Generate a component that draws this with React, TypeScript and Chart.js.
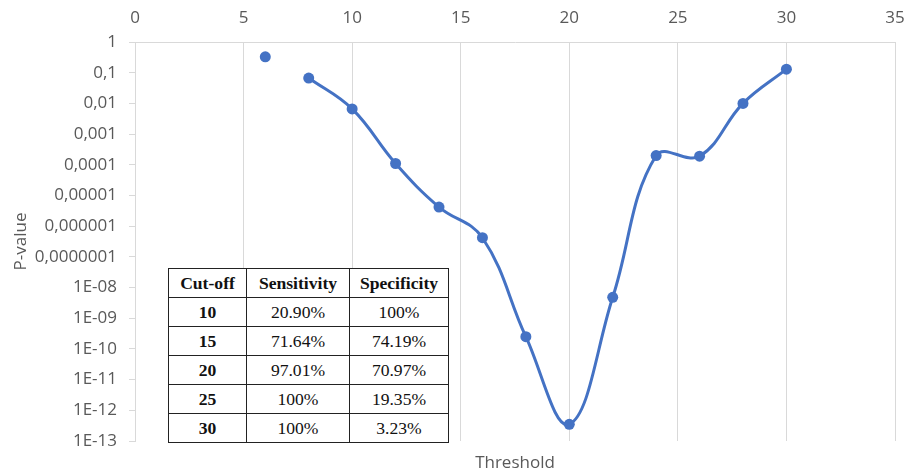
import React, { useEffect, useRef } from "react";
import { Chart, registerables } from "chart.js";
Chart.register(...registerables);

const isolatedThresholds = [6];
const isolatedPValues = [0.33];
const thresholds = [8, 10, 12, 14, 16, 18, 20, 22, 24, 26, 28, 30];
const pValues = [0.067, 0.0066, 1.1e-4, 4.2e-6, 4.2e-7, 2.5e-10, 3.5e-13, 4.8e-9, 2e-4, 1.9e-4, 0.01, 0.13];

const yTickValues = [1e-13, 1e-12, 1e-11, 1e-10, 1e-9, 1e-8, 1e-7, 1e-6, 1e-5, 1e-4, 1e-3, 1e-2, 1e-1, 1];
const yTickLabels = ["1E-13", "1E-12", "1E-11", "1E-10", "1E-09", "1E-08", "0,0000001", "0,000001", "0,00001", "0,0001", "0,001", "0,01", "0,1", "1"];

const tableHeaders = ["Cut-off", "Sensitivity", "Specificity"];
const cutoffs = ["10", "15", "20", "25", "30"];
const sensitivity = ["20.90%", "71.64%", "97.01%", "100%", "100%"];
const specificity = ["100%", "74.19%", "70.97%", "19.35%", "3.23%"];

const BLUE = "#4472C4";
const TEXT = "#595959";
const GRID = "#d9d9d9";
const FONT = "'Open Sans', sans-serif";

export default function App() {
  const ref = useRef<HTMLCanvasElement | null>(null);

  useEffect(() => {
    if (!ref.current) return;
    const chart = new Chart(ref.current, {
      type: "line",
      data: {
        datasets: [
          {
            data: isolatedThresholds.map((x, i) => ({ x, y: isolatedPValues[i] })),
            borderColor: BLUE,
            backgroundColor: BLUE,
            pointRadius: 5.5,
            pointBorderWidth: 0,
            showLine: false,
            xAxisID: "x",
            yAxisID: "y",
          },
          {
            data: thresholds.map((x, i) => ({ x, y: pValues[i] })),
            borderColor: BLUE,
            backgroundColor: BLUE,
            borderWidth: 3,
            pointRadius: 5.5,
            pointBorderWidth: 0,
            tension: 0.4,
            xAxisID: "x",
            yAxisID: "y",
          },
        ],
      },
      options: {
        responsive: false,
        animation: false,
        layout: { padding: { left: 0, right: 0, top: 0, bottom: 0 } },
        plugins: { legend: { display: false }, tooltip: { enabled: false } },
        scales: {
          x: {
            type: "linear",
            position: "top",
            min: 0,
            max: 35,
            ticks: { stepSize: 5, color: TEXT, font: { family: FONT, size: 17 }, padding: 14 },
            grid: { color: GRID, drawTicks: false, lineWidth: 1 },
            border: { display: true, color: GRID },
            afterFit: (s: any) => { s.height = 42; s.paddingRight = 12; },
          },
          xb: {
            type: "linear",
            position: "bottom",
            min: 0,
            max: 35,
            ticks: { display: false },
            grid: { display: false },
            border: { display: false },
            title: { display: true, text: "Threshold", color: TEXT, font: { family: FONT, size: 17 }, padding: { top: 0, bottom: 0 } },
            afterFit: (s: any) => { s.height = 32; s.paddingRight = 0; s.paddingLeft = 0; },
          },
          y: {
            type: "logarithmic",
            position: "left",
            min: 1e-13,
            max: 1,
            afterBuildTicks: (s: any) => {
              s.ticks = yTickValues.map((v) => ({ value: v }));
            },
            ticks: {
              color: TEXT,
              font: { family: FONT, size: 17 },
              padding: 12,
              autoSkip: false,
              callback: (value: any) => {
                const i = yTickValues.findIndex((v) => Math.abs(Math.log10(v) - Math.log10(Number(value))) < 1e-6);
                return i >= 0 ? yTickLabels[i] : "";
              },
            },
            grid: { drawOnChartArea: false, drawTicks: true, tickLength: 6, color: GRID },
            border: { display: true, color: GRID },
            title: { display: true, text: "P-value", color: TEXT, font: { family: FONT, size: 17 }, padding: { top: 11, bottom: 0 } },
            afterFit: (s: any) => { s.width = 135; },
          },
        },
      },
    } as any);
    return () => chart.destroy();
  }, []);

  const cellBase: React.CSSProperties = {
    border: "1.5px solid #222",
    textAlign: "center",
    padding: 0,
    height: 28,
  };
  const widths = [77, 102, 98];

  return (
    <div style={{ position: "fixed", left: 0, top: 0, width: 907, height: 473, background: "#fff" }}>
      <canvas ref={ref} width={907} height={473} />
      <table
        style={{
          position: "absolute",
          left: 168,
          top: 268,
          width: 277,
          borderCollapse: "collapse",
          background: "#fff",
          fontFamily: "'Liberation Serif', serif",
          fontSize: 17.6,
          color: "#111",
          tableLayout: "fixed",
        }}
      >
        <tbody>
          <tr>
            {tableHeaders.map((h, i) => (
              <td key={h} style={{ ...cellBase, width: widths[i], fontWeight: "bold" }}>{h}</td>
            ))}
          </tr>
          {cutoffs.map((c, r) => (
            <tr key={c}>
              <td style={{ ...cellBase, fontWeight: "bold" }}>{c}</td>
              <td style={cellBase}>{sensitivity[r]}</td>
              <td style={cellBase}>{specificity[r]}</td>
            </tr>
          ))}
        </tbody>
      </table>
    </div>
  );
}
